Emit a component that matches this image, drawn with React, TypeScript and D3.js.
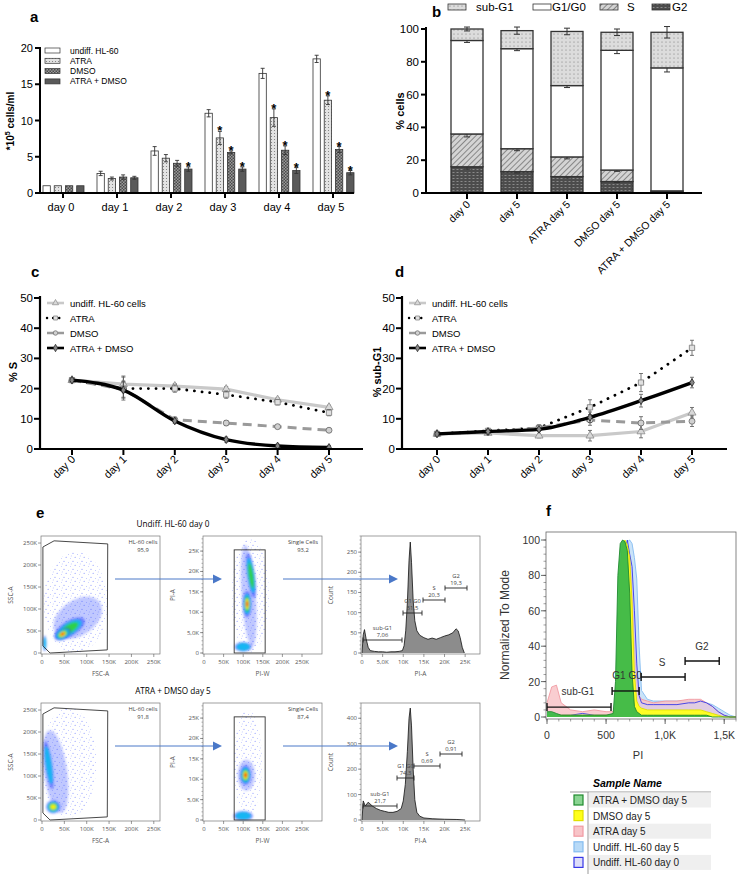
import React from 'react';
import * as d3 from 'd3';

const FONT = '"Liberation Sans", Arial, Helvetica, sans-serif';
const FLOW_FONT = '"Open Sans", "Liberation Sans", sans-serif';

// ---------- a: cell counts (*10^5 cells/ml)
const days = ['day 0', 'day 1', 'day 2', 'day 3', 'day 4', 'day 5'];
const countSeries = ['undiff. HL-60', 'ATRA', 'DMSO', 'ATRA + DMSO'];
const countUndiff = [1, 2.7, 5.8, 11.0, 16.5, 18.5];
const countAtra = [1, 2.0, 4.8, 7.6, 10.4, 12.8];
const countDmso = [1, 2.2, 4.1, 5.6, 5.9, 6.0];
const countBoth = [1, 2.1, 3.3, 3.3, 3.1, 2.8];
const countErrUndiff = [0, 0.3, 0.6, 0.5, 0.7, 0.5];
const countErrAtra = [0, 0.2, 0.5, 0.9, 1.2, 0.6];
const countErrDmso = [0, 0.3, 0.4, 0.2, 0.6, 0.4];
const countErrBoth = [0, 0.2, 0.3, 0.3, 0.4, 0.3];
const starAtra = [0, 0, 0, 1, 1, 1];
const starDmso = [0, 0, 0, 1, 1, 1];
const starBoth = [0, 0, 1, 1, 1, 1];

// ---------- b: cell cycle phases (% cells)
const stackCats = ['day 0', 'day 5', 'ATRA day 5', 'DMSO day 5', 'ATRA + DMSO day 5'];
const phaseNames = ['sub-G1', 'G1/G0', 'S', 'G2'];
const pctG2 = [16, 13, 10, 7, 1];
const pctS = [20, 14, 12, 7, 0.3];
const pctG1 = [57, 61, 43.5, 73, 75];
const pctSubG1 = [7, 11, 33, 11, 21.7];
const errG2 = [1.5, 0.8, 0.8, 0.6, 0.4];
const errS = [1.8, 1.2, 1.2, 0.8, 0.4];
const errG1 = [1.2, 1.2, 1.2, 2.0, 2.5];
const errSubG1 = [1.2, 2.2, 2.0, 2.0, 3.5];

// ---------- c: % S,  d: % sub-G1
const lineSeries = ['undiff. HL-60 cells', 'ATRA', 'DMSO', 'ATRA + DMSO'];
const sUndiff = [22.8, 21.5, 20.8, 19.8, 16.3, 13.8];
const sAtra = [22.8, 20.0, 20.0, 18.0, 15.5, 12.0];
const sDmso = [22.8, 19.8, 9.7, 8.6, 7.4, 6.2];
const sBoth = [22.8, 19.5, 9.3, 3.1, 1.0, 0.5];
const sErr = [0.4, 3.8, 1.2, 1.2, 0.9, 1.0];
const subUndiff = [5.0, 5.3, 4.4, 4.4, 5.8, 12.0];
const subAtra = [5.0, 6.0, 7.0, 13.8, 22.0, 33.5];
const subDmso = [5.0, 5.6, 7.0, 9.6, 8.6, 9.2];
const subBoth = [5.0, 5.8, 6.5, 10.5, 16.0, 22.0];
const subErr = [0.5, 0.8, 1.0, 2.5, 3.0, 2.5];

// ---------- e: flow cytometry
const histTopPi = [0, 300, 600, 1000, 1500, 2000, 3000, 4000, 5000, 6000, 7000, 8000, 9000, 9800, 10200, 10600, 11000, 11400, 11700, 12000, 12400, 12800, 13300, 14000, 15000, 16000, 17000, 18000, 19000, 20000, 21000, 22000, 22800, 23300, 23800, 24300, 24800];
const histTopCount = [0, 45, 58, 35, 14, 6, 4, 3, 3, 2, 3, 3, 4, 6, 18, 55, 125, 230, 275, 225, 130, 80, 55, 44, 38, 34, 37, 34, 38, 42, 45, 50, 60, 55, 38, 14, 0];
const histBotPi = [0, 300, 800, 1500, 2500, 3500, 4500, 5500, 6500, 7500, 8500, 9500, 10000, 10500, 11000, 11400, 11700, 12000, 12400, 12800, 13300, 14000, 15000, 17000, 20000, 23000, 25000];
const histBotCount = [0, 75, 55, 70, 55, 45, 38, 34, 30, 30, 34, 45, 75, 140, 270, 400, 440, 370, 200, 80, 30, 15, 8, 5, 3, 2, 0];
const gateTopLabels = ['95,9', '93,2', '7,06', '51,5', '20,3', '19,3'];
const gateBotLabels = ['91,8', '87,4', '21,7', '74,3', '0,69', '0,91'];
const fscGate: [number, number][] = [[2e3, 16e3], [2e3, 241e3], [27e3, 255e3], [147e3, 248e3], [146e3, 7e3], [18e3, 0]];
const topFscBlobs = [
  { x: 80e3, y: 80e3, rx: 60e3, ry: 40e3, rot: -35, levels: 1 },
  { x: 62e3, y: 56e3, rx: 38e3, ry: 17e3, rot: -32, levels: 3 },
  { x: 46e3, y: 43e3, rx: 20e3, ry: 12e3, rot: -30, levels: 5 },
  { x: 6e3, y: 22e3, rx: 4e3, ry: 18e3, rot: 0, levels: 2 },
];
const topFscSpeck = { x: 75e3, y: 115e3, rx: 72e3, ry: 115e3 };
const topPiBlobs = [
  { x: 114e3, y: 14e3, rx: 18e3, ry: 12.5e3, rot: -4, levels: 1 },
  { x: 120e3, y: 19e3, rx: 10e3, ry: 5.5e3, rot: -8, levels: 3 },
  { x: 110e3, y: 12e3, rx: 11e3, ry: 3.2e3, rot: 0, levels: 5 },
  { x: 100e3, y: 1.5e3, rx: 22e3, ry: 1.2e3, rot: 0, levels: 2 },
];
const topPiSpeck = { x: 118e3, y: 14e3, rx: 48e3, ry: 14e3 };
const botFscBlobs = [
  { x: 30e3, y: 110e3, rx: 26e3, ry: 95e3, rot: -8, levels: 1 },
  { x: 15e3, y: 125e3, rx: 8e3, ry: 55e3, rot: -8, levels: 2 },
  { x: 25e3, y: 30e3, rx: 16e3, ry: 15e3, rot: 0, levels: 4 },
];
const botFscSpeck = { x: 60e3, y: 130e3, rx: 62e3, ry: 125e3 };
const botPiBlobs = [
  { x: 108e3, y: 11e3, rx: 22e3, ry: 3.8e3, rot: 0, levels: 1 },
  { x: 106e3, y: 11e3, rx: 14e3, ry: 2.4e3, rot: 0, levels: 5 },
  { x: 100e3, y: 1e3, rx: 25e3, ry: 1.2e3, rot: 0, levels: 2 },
];
const botPiSpeck = { x: 112e3, y: 14e3, rx: 36e3, ry: 13e3 };

// ---------- f: overlay histograms (normalized to mode)
const overlayPi = [0, 40, 80, 120, 200, 300, 400, 500, 560, 580, 600, 620, 640, 660, 680, 700, 720, 740, 760, 780, 800, 850, 900, 1000, 1100, 1200, 1250, 1300, 1350, 1400, 1450, 1500, 1550, 1600];
const sampleNames = ['ATRA + DMSO day 5', 'DMSO day 5', 'ATRA day 5', 'Undiff. HL-60 day 5', 'Undiff. HL-60 day 0'];
const ovBoth = [3, 3, 2, 1, 1, 1, 1, 1, 2, 20, 80, 98, 100, 99, 94, 70, 25, 6, 3, 2, 1, 1, 1, 1, 1, 1, 1, 1, 1, 0, 0, 0, 0, 0];
const ovDmso = [1, 1, 1, 1, 1, 1, 1, 1, 1, 5, 40, 85, 98, 100, 97, 90, 65, 25, 9, 6, 5, 4, 4, 4, 4, 4, 4, 4, 3, 2, 1, 0, 0, 0];
const ovAtra = [8, 17, 18, 8, 4, 3, 4, 3, 3, 6, 30, 70, 90, 95, 96, 90, 70, 40, 20, 12, 10, 9, 8, 9, 9, 10, 10, 10, 8, 6, 3, 1, 0, 0];
const ovUndiff5 = [1, 1, 1, 1, 1, 1, 1, 1, 1, 2, 10, 40, 75, 95, 99, 100, 98, 90, 78, 40, 15, 10, 9, 9, 9, 9, 9, 9, 8, 7, 5, 3, 1, 0];
const ovUndiff0 = [1, 1, 1, 1, 1, 2, 1, 1, 1, 2, 8, 30, 70, 95, 100, 92, 85, 60, 30, 12, 8, 7, 7, 7, 7, 8, 8, 9, 8, 6, 3, 1, 0, 0];
const ovGateNames = ['sub-G1', 'G1 G0', 'S', 'G2'];
const ovGateFrom = [0, 551, 797, 1169];
const ovGateTo = [542, 780, 1169, 1458];
const ovGateLevel = [5.6, 14.7, 22.6, 31.6];

const densityColors = ['#2f46ff', '#12b6f2', '#2fd04a', '#f0ee10', '#ff2a10'];
const densityScale = [1, 0.78, 0.58, 0.4, 0.24];

function Defs() {
  return (
    <defs>
      <pattern id="dotFill" width="3" height="3" patternUnits="userSpaceOnUse">
        <rect width="3" height="3" fill="#e2e2e2" />
        <circle cx="1.5" cy="1.5" r="0.55" fill="#777" />
      </pattern>
      <pattern id="checkFill" width="3" height="3" patternUnits="userSpaceOnUse">
        <rect width="3" height="3" fill="#9a9a9a" />
        <rect width="1.5" height="1.5" fill="#4a4a4a" />
        <rect x="1.5" y="1.5" width="1.5" height="1.5" fill="#4a4a4a" />
      </pattern>
      <pattern id="subFill" width="4" height="4" patternUnits="userSpaceOnUse">
        <rect width="4" height="4" fill="#dcdcdc" />
        <circle cx="2" cy="2" r="0.5" fill="#666" />
      </pattern>
      <pattern id="hatchFill" width="4" height="4" patternUnits="userSpaceOnUse" patternTransform="rotate(45)">
        <rect width="4" height="4" fill="#d4d4d4" />
        <line x1="0" y1="0" x2="0" y2="4" stroke="#666" strokeWidth="1.4" />
      </pattern>
      <pattern id="g2Fill" width="4" height="3" patternUnits="userSpaceOnUse">
        <rect width="4" height="3" fill="#4c4c4c" />
        <rect x="0.5" y="1" width="2" height="0.8" fill="#9a9a9a" />
      </pattern>
      <pattern id="speck" width="9" height="8" patternUnits="userSpaceOnUse">
        <circle cx="1" cy="1.2" r="0.5" fill="#3c50ff" />
        <circle cx="5.6" cy="2.4" r="0.45" fill="#5a6cff" />
        <circle cx="3.1" cy="5.3" r="0.5" fill="#3c50ff" />
        <circle cx="7.4" cy="6.6" r="0.45" fill="#6a7aff" />
        <circle cx="8.2" cy="3.9" r="0.4" fill="#3c50ff" />
      </pattern>
      <filter id="soft" x="-50%" y="-50%" width="200%" height="200%">
        <feGaussianBlur stdDeviation="0.9" />
      </filter>
      <clipPath id="clipF"><rect x={546} y={532} width={190} height={187} /></clipPath>
    </defs>
  );
}

function ErrorBar({ x, y0, y1, w = 5, color = '#333', sw = 0.9 }: any) {
  return (
    <g stroke={color} strokeWidth={sw}>
      <line x1={x} x2={x} y1={y0} y2={y1} />
      <line x1={x - w / 2} x2={x + w / 2} y1={y0} y2={y0} />
      <line x1={x - w / 2} x2={x + w / 2} y1={y1} y2={y1} />
    </g>
  );
}

function PanelA() {
  const x = d3.scalePoint<string>().domain(days).range([63, 333]);
  const inner = d3.scaleBand<string>().domain(countSeries).range([-20, 21]).paddingInner(0.35);
  const y = d3.scaleLinear().domain([0, 20]).range([193, 48]);
  const vals = [countUndiff, countAtra, countDmso, countBoth];
  const errs = [countErrUndiff, countErrAtra, countErrDmso, countErrBoth];
  const stars = [null, starAtra, starDmso, starBoth];
  const fills = ['#fff', 'url(#dotFill)', 'url(#checkFill)', '#5a5a5a'];
  const bw = inner.bandwidth();
  return (
    <g fontFamily={FONT}>
      <text x={30} y={22} fontSize={15} fontWeight="bold">a</text>
      {countSeries.map((s, si) => days.map((d, di) => {
        const bx = x(d)! + inner(s)!;
        const v = vals[si][di];
        const e = errs[si][di];
        const cx = bx + bw / 2;
        return (
          <g key={s + d}>
            <rect x={bx} y={y(v)} width={bw} height={y(0) - y(v)} fill={fills[si]} stroke="#333" strokeWidth={0.8} />
            {e > 0 && <ErrorBar x={cx} y0={y(v + e)} y1={y(v - e)} w={4} />}
            {stars[si] && stars[si]![di] ? (
              <text x={cx} y={y(v + e) + 4} textAnchor="middle" fontSize={13} fontWeight="bold">*</text>
            ) : null}
          </g>
        );
      }))}
      <line x1={40} x2={40} y1={47} y2={194} stroke="#000" strokeWidth={2} />
      <line x1={39} x2={354} y1={193} y2={193} stroke="#000" strokeWidth={2} />
      {y.ticks(4).map(t => (
        <g key={t}>
          <line x1={35} x2={40} y1={y(t)} y2={y(t)} stroke="#000" strokeWidth={2} />
          <text x={33} y={y(t) + 4} textAnchor="end" fontSize={11}>{t}</text>
        </g>
      ))}
      {days.map(d => (
        <g key={d}>
          <line x1={x(d)} x2={x(d)} y1={193} y2={198} stroke="#000" strokeWidth={2} />
          <text x={x(d)! - 2} y={211} textAnchor="middle" fontSize={11}>{d}</text>
        </g>
      ))}
      <text transform="translate(14,121) rotate(-90)" textAnchor="middle" fontSize={10} fontWeight="bold">
        *10<tspan fontSize={7} dy={-4}>5</tspan><tspan dy={4}> cells/ml</tspan>
      </text>
      {countSeries.map((s, i) => (
        <g key={s}>
          <rect x={45} y={48 + i * 10.3} width={15} height={5} fill={fills[i]} stroke="#333" strokeWidth={0.7} />
          <text x={70} y={53.5 + i * 10.3} fontSize={8.5}>{s}</text>
        </g>
      ))}
    </g>
  );
}

function PanelB() {
  const x = d3.scalePoint<string>().domain(stackCats).range([467, 667]);
  const y = d3.scaleLinear().domain([0, 100]).range([193, 29]);
  const table = stackCats.map((c, i) => ({ cat: c, G2: pctG2[i], S: pctS[i], 'G1/G0': pctG1[i], 'sub-G1': pctSubG1[i] }));
  const keys = ['G2', 'S', 'G1/G0', 'sub-G1'];
  const errMap: Record<string, number[]> = { G2: errG2, S: errS, 'G1/G0': errG1, 'sub-G1': errSubG1 };
  const fillMap: Record<string, string> = { G2: 'url(#g2Fill)', S: 'url(#hatchFill)', 'G1/G0': '#fff', 'sub-G1': 'url(#subFill)' };
  const stacked = d3.stack<any>().keys(keys)(table);
  const bw = 32;
  const legendX = [448, 533, 600, 652];
  const legendTextX = [476, 552, 627, 672];
  return (
    <g fontFamily={FONT}>
      <text x={432} y={17} fontSize={15} fontWeight="bold">b</text>
      {phaseNames.map((p, i) => (
        <g key={p}>
          <rect x={legendX[i]} y={4} width={18} height={6} fill={fillMap[p]} stroke="#333" strokeWidth={0.8} />
          <text x={legendTextX[i]} y={11} fontSize={11.5}>{p}</text>
        </g>
      ))}
      {stacked.map(layer => layer.map((seg, i) => {
        const cx = x(stackCats[i])!;
        const top = seg[1];
        const e = errMap[layer.key][i];
        return (
          <g key={layer.key + i}>
            <rect x={cx - bw / 2} y={y(seg[1])} width={bw} height={Math.max(0, y(seg[0]) - y(seg[1]))} fill={fillMap[layer.key]} stroke="#333" strokeWidth={1.3} />
            <ErrorBar x={cx} y0={y(top + e)} y1={y(top - e)} w={6} sw={1} />
          </g>
        );
      }))}
      <line x1={426} x2={426} y1={27} y2={194} stroke="#000" strokeWidth={2} />
      <line x1={425} x2={702} y1={193} y2={193} stroke="#000" strokeWidth={2} />
      {y.ticks(5).map(t => (
        <g key={t}>
          <line x1={421} x2={426} y1={y(t)} y2={y(t)} stroke="#000" strokeWidth={2} />
          <text x={419} y={y(t) + 4} textAnchor="end" fontSize={11.5}>{t}</text>
        </g>
      ))}
      {stackCats.map(c => (
        <g key={c}>
          <line x1={x(c)} x2={x(c)} y1={193} y2={199} stroke="#000" strokeWidth={2} />
          <text transform={`translate(${x(c)! + 4},205) rotate(-45)`} textAnchor="end" fontSize={10.5}>{c}</text>
        </g>
      ))}
      <text transform="translate(404,111) rotate(-90)" textAnchor="middle" fontSize={11} fontWeight="bold">% cells</text>
    </g>
  );
}

const lineStyles = [
  { stroke: '#c9c9c9', width: 3.2, dash: undefined as string | undefined, cap: 'butt', sym: d3.symbolTriangle, mFill: '#d8d8d8', mStroke: '#8a8a8a' },
  { stroke: '#000', width: 2.8, dash: '0.1,7.6', cap: 'round', sym: d3.symbolSquare, mFill: '#e0e0e0', mStroke: '#777' },
  { stroke: '#9a9a9a', width: 3, dash: '9,6', cap: 'butt', sym: d3.symbolCircle, mFill: '#d0d0d0', mStroke: '#666' },
  { stroke: '#000', width: 3.4, dash: undefined, cap: 'butt', sym: d3.symbolDiamond, mFill: '#888', mStroke: '#222' },
];

function LinePanel({ letter, letterX, axisX, xRange, xEnd, yLabel, yLabelX, data, err }: any) {
  const x = d3.scalePoint<string>().domain(days).range(xRange);
  const y = d3.scaleLinear().domain([0, 50]).range([449, 298]);
  const sym = (s: any, size: number) => d3.symbol().type(s).size(size)()!;
  return (
    <g fontFamily={FONT}>
      <text x={letterX} y={277} fontSize={15} fontWeight="bold">{letter}</text>
      {data.map((vals: number[], si: number) => {
        const st = lineStyles[si];
        const line = d3.line<number>().x((_, i) => x(days[i])!).y(d => y(d)).curve(si === 3 ? d3.curveMonotoneX : d3.curveLinear);
        return (
          <g key={si}>
            <path d={line(vals)!} fill="none" stroke={st.stroke} strokeWidth={st.width} strokeDasharray={st.dash} strokeLinecap={st.cap as any} />
            {vals.map((v, i) => (
              <g key={i}>
                {i > 0 && <ErrorBar x={x(days[i])} y0={y(v + err[i] * (si === 1 ? 1 : 0.7))} y1={y(Math.max(0, v - err[i] * (si === 1 ? 1 : 0.7)))} w={4} color="#555" sw={0.8} />}
                <path transform={`translate(${x(days[i])},${y(v)})`} d={sym(st.sym, si === 3 ? 18 : 28)} fill={st.mFill} stroke={st.mStroke} strokeWidth={0.8} />
              </g>
            ))}
          </g>
        );
      })}
      <line x1={axisX} x2={axisX} y1={296} y2={450} stroke="#000" strokeWidth={2.2} />
      <line x1={axisX - 1} x2={xEnd} y1={449} y2={449} stroke="#000" strokeWidth={2.2} />
      {y.ticks(5).map(t => (
        <g key={t}>
          <line x1={axisX - 6} x2={axisX} y1={y(t)} y2={y(t)} stroke="#000" strokeWidth={2} />
          <text x={axisX - 7} y={y(t) + 4} textAnchor="end" fontSize={11.5}>{t}</text>
        </g>
      ))}
      {days.map(d => (
        <g key={d}>
          <line x1={x(d)} x2={x(d)} y1={449} y2={455} stroke="#000" strokeWidth={2} />
          <text transform={`translate(${x(d)! + 4},460) rotate(-45)`} textAnchor="end" fontSize={11}>{d}</text>
        </g>
      ))}
      <text transform={`translate(${yLabelX},372) rotate(-90)`} textAnchor="middle" fontSize={11} fontWeight="bold">{yLabel}</text>
      {lineSeries.map((s, i) => {
        const st = lineStyles[i];
        const ly = 303 + i * 15;
        const lx = axisX + 7;
        return (
          <g key={s}>
            <line x1={lx} x2={lx + 17} y1={ly} y2={ly} stroke={st.stroke} strokeWidth={i === 1 ? 2.4 : 2.6} strokeDasharray={i === 1 ? '0.1,6' : i === 2 ? '7,4' : undefined} strokeLinecap={st.cap as any} />
            <path transform={`translate(${lx + 8.5},${ly})`} d={sym(st.sym, 16)} fill={st.mFill} stroke={st.mStroke} strokeWidth={0.7} />
            <text x={lx + 23} y={ly + 3.5} fontSize={9.5}>{s}</text>
          </g>
        );
      })}
    </g>
  );
}

function Density({ xs, ys, blobs, speck }: any) {
  const sx = (v: number) => Math.abs(xs(v) - xs(0));
  const sy = (v: number) => Math.abs(ys(v) - ys(0));
  return (
    <g>
      <ellipse cx={xs(speck.x)} cy={ys(speck.y)} rx={sx(speck.rx)} ry={sy(speck.ry)} fill="url(#speck)" opacity={0.8} />
      {blobs.map((b: any, bi: number) => (
        <g key={bi} transform={`translate(${xs(b.x)},${ys(b.y)}) rotate(${b.rot})`} filter="url(#soft)">
          {densityColors.slice(0, b.levels).map((c, li) => (
            <ellipse key={li} rx={sx(b.rx) * densityScale[li]} ry={sy(b.ry) * densityScale[li]} fill={c}
              opacity={b.levels === 1 ? 0.3 : li === 0 ? 0.6 : 1} />
          ))}
        </g>
      ))}
    </g>
  );
}

function FlowFrame({ x0, x1, y0, y1, xs, ys, xt, yt, fmt, xLabel, yLabel, minor }: any) {
  const tc = '#555';
  return (
    <g fontFamily={FLOW_FONT} fill={tc}>
      <rect x={x0} y={y0} width={x1 - x0} height={y1 - y0} fill="none" stroke="#777" strokeWidth={0.7} />
      {xt.map((t: number) => (
        <g key={t}>
          <line x1={xs(t)} x2={xs(t)} y1={y1} y2={y1 + 3} stroke={tc} strokeWidth={0.6} />
          <text x={xs(t)} y={y1 + 10} textAnchor="middle" fontSize={6}>{fmt(t)}</text>
        </g>
      ))}
      {yt.map((t: number) => (
        <g key={t}>
          <line x1={x0 - 3} x2={x0} y1={ys(t)} y2={ys(t)} stroke={tc} strokeWidth={0.6} />
          <text x={x0 - 4} y={ys(t) + 2} textAnchor="end" fontSize={6}>{fmt(t)}</text>
        </g>
      ))}
      {minor && d3.range(0, minor.count).map((i: number) => (
        <line key={i} x1={x0 - 1.6} x2={x0} y1={ys(i * minor.step)} y2={ys(i * minor.step)} stroke={tc} strokeWidth={0.4} />
      ))}
      <text x={(x0 + x1) / 2} y={y1 + 22} textAnchor="middle" fontSize={6.5}>{xLabel}</text>
      <text transform={`translate(${x0 - 28},${(y0 + y1) / 2}) rotate(-90)`} textAnchor="middle" fontSize={6.5}>{yLabel}</text>
    </g>
  );
}

const kFmt = (v: number) => (v === 0 ? '0' : v < 10000 ? (v / 1000).toFixed(1).replace('.', ',') + 'K' : v / 1000 + 'K');
const nFmt = (v: number) => String(v);

function FlowRow({ top, title, labels, fscBlobs, fscSpeck, piBlobs, piSpeck, histPi, histCount, countMax, countTicks, gates }: any) {
  const y0 = top;
  const y1 = top + 118;
  const b = y1 - 1;
  const x1s = d3.scaleLinear().domain([0, 265000]).range([42, 160.5]);
  const y1s = d3.scaleLinear().domain([0, 266000]).range([b, y0]);
  const x2s = d3.scaleLinear().domain([0, 300000]).range([204, 321.6]);
  const y2s = d3.scaleLinear().domain([0, 28700]).range([b, y0]);
  const x3s = d3.scaleLinear().domain([0, 28600]).range([362, 480]);
  const y3s = d3.scaleLinear().domain([0, countMax]).range([b, y0]);
  const area = d3.area<number>().x((_, i) => x3s(histPi[i])).y0(b).y1(d => y3s(d));
  const line = d3.line<number>().x((_, i) => x3s(histPi[i])).y(d => y3s(d));
  const scatterTicks = [0, 50000, 100000, 150000, 200000, 250000];
  const piTicks = [0, 5000, 10000, 15000, 20000, 25000];
  const gp = fscGate.map(p => `${x1s(p[0])},${y1s(p[1])}`).join(' ');
  const gl = { fontSize: 5.8, fill: '#444', fontFamily: FLOW_FONT, textAnchor: 'middle' as const };
  const arrowY = top + 43;
  return (
    <g>
      <text x={173} y={top - 9} textAnchor="middle" fontSize={8.2} fontFamily={FLOW_FONT}>{title}</text>
      <clipPath id={`c1${top}`}><rect x={41} y={y0} width={119} height={118} /></clipPath>
      <clipPath id={`c2${top}`}><rect x={203} y={y0} width={119} height={118} /></clipPath>
      <g clipPath={`url(#c1${top})`}><Density xs={x1s} ys={y1s} blobs={fscBlobs} speck={fscSpeck} /></g>
      <g clipPath={`url(#c2${top})`}><Density xs={x2s} ys={y2s} blobs={piBlobs} speck={piSpeck} /></g>
      <polygon points={gp} fill="none" stroke="#333" strokeWidth={0.9} />
      <rect x={x2s(77000)} y={y2s(25300)} width={x2s(156000) - x2s(77000)} height={b - y2s(25300)} fill="none" stroke="#333" strokeWidth={0.9} />
      <text x={143} y={y0 + 8} {...gl}>HL-60 cells</text>
      <text x={143} y={y0 + 16} {...gl}>{labels[0]}</text>
      <text x={303} y={y0 + 8} {...gl}>Single Cells</text>
      <text x={303} y={y0 + 16} {...gl}>{labels[1]}</text>
      <FlowFrame x0={41} x1={160} y0={y0} y1={y1} xs={x1s} ys={y1s} xt={scatterTicks} yt={scatterTicks} fmt={kFmt} xLabel="FSC-A" yLabel="SSC-A" />
      <FlowFrame x0={203} x1={322} y0={y0} y1={y1} xs={x2s} ys={y2s} xt={scatterTicks} yt={piTicks} fmt={kFmt} xLabel="PI-W" yLabel="PI-A" minor={{ step: 1000, count: 29 }} />
      <path d={area(histCount)!} fill="#8c8c8c" />
      <path d={line(histCount)!} fill="none" stroke="#111" strokeWidth={0.8} />
      <FlowFrame x0={361} x1={480} y0={y0} y1={y1} xs={x3s} ys={y3s} xt={piTicks} yt={countTicks} fmt={(v: number) => (v >= 1000 ? kFmt(v) : nFmt(v))} xLabel="PI-A" yLabel="Count" minor={{ step: countTicks[1] / 5, count: Math.floor(countMax / (countTicks[1] / 5)) + 1 }} />
      {gates.map((g: any, i: number) => (
        <g key={i}>
          <g stroke="#222" strokeWidth={0.9}>
            <line x1={g.x0} x2={g.x1} y1={g.y} y2={g.y} />
            <line x1={g.x0} x2={g.x0} y1={g.y - 2.5} y2={g.y + 2.5} />
            <line x1={g.x1} x2={g.x1} y1={g.y - 2.5} y2={g.y + 2.5} />
          </g>
          <text x={(g.x0 + g.x1) / 2} y={g.y - 10} {...gl}>{g.name}</text>
          <text x={(g.x0 + g.x1) / 2} y={g.y - 3} {...gl}>{labels[2 + i]}</text>
        </g>
      ))}
      <g stroke="#4a78c8" strokeWidth={1}>
        <line x1={115} x2={214} y1={arrowY} y2={arrowY} />
        <line x1={283} x2={390} y1={arrowY} y2={arrowY} />
      </g>
      <polygon points={`213,${arrowY - 4.5} 222,${arrowY} 213,${arrowY + 4.5}`} fill="#4a78c8" />
      <polygon points={`389,${arrowY - 4.5} 398,${arrowY} 389,${arrowY + 4.5}`} fill="#4a78c8" />
    </g>
  );
}

function PanelE() {
  const topGates = [
    { name: 'sub-G1', x0: 363, x1: 402, y: 640 },
    { name: 'G1 G0', x0: 403, x1: 422, y: 613 },
    { name: 'S', x0: 423, x1: 445, y: 600 },
    { name: 'G2', x0: 445, x1: 467, y: 588 },
  ];
  const botGates = [
    { name: 'sub-G1', x0: 363, x1: 397, y: 806 },
    { name: 'G1 G0', x0: 397, x1: 414, y: 778 },
    { name: 'S', x0: 414, x1: 440, y: 766 },
    { name: 'G2', x0: 440, x1: 462, y: 754 },
  ];
  return (
    <g>
      <text x={36} y={518} fontSize={15} fontWeight="bold" fontFamily={FONT}>e</text>
      <FlowRow top={536} title="Undiff. HL-60 day 0" labels={gateTopLabels} fscBlobs={topFscBlobs} fscSpeck={topFscSpeck} piBlobs={topPiBlobs} piSpeck={topPiSpeck}
        histPi={histTopPi} histCount={histTopCount} countMax={290} countTicks={[0, 50, 100, 150, 200, 250]} gates={topGates} />
      <FlowRow top={703} title="ATRA + DMSO day 5" labels={gateBotLabels} fscBlobs={botFscBlobs} fscSpeck={botFscSpeck} piBlobs={botPiBlobs} piSpeck={botPiSpeck}
        histPi={histBotPi} histCount={histBotCount} countMax={460} countTicks={[0, 100, 200, 300, 400]} gates={botGates} />
    </g>
  );
}

const overlayStyles = [
  { fill: '#3cb84a', stroke: '#1f8a2e', op: 0.95 },
  { fill: '#ffff1a', stroke: '#e0e000', op: 0.95 },
  { fill: '#f8c4c8', stroke: '#f19aa2', op: 0.85 },
  { fill: '#b8daf7', stroke: '#84bcf0', op: 0.75 },
  { fill: '#cfcff6', stroke: '#3838e6', op: 0.5 },
];

function PanelF() {
  const x = d3.scaleLinear().domain([0, 1600]).range([547, 736]);
  const y = d3.scaleLinear().domain([0, 100]).range([717, 540]);
  const series = [ovBoth, ovDmso, ovAtra, ovUndiff5, ovUndiff0];
  const area = d3.area<number>().x((_, i) => x(overlayPi[i])).y0(y(0)).y1(d => y(d));
  const line = d3.line<number>().x((_, i) => x(overlayPi[i])).y(d => y(d));
  const drawOrder = [3, 2, 4, 1, 0];
  return (
    <g fontFamily={FONT}>
      <text x={546} y={516} fontSize={15} fontWeight="bold">f</text>
      <g clipPath="url(#clipF)">
        {drawOrder.map(si => (
          <g key={si}>
            <path d={area(series[si])!} fill={overlayStyles[si].fill} opacity={overlayStyles[si].op} />
            <path d={line(series[si])!} fill="none" stroke={overlayStyles[si].stroke} strokeWidth={0.9} />
          </g>
        ))}
      </g>
      <rect x={546} y={532} width={190} height={187} fill="none" stroke="#666" strokeWidth={0.8} />
      {y.ticks(5).map(t => (
        <g key={t}>
          <line x1={541} x2={546} y1={y(t)} y2={y(t)} stroke="#444" strokeWidth={0.8} />
          <text x={540} y={y(t) + 4} textAnchor="end" fontSize={10.5} fill="#333">{t}</text>
        </g>
      ))}
      {d3.range(0, 101, 4).map(t => (
        <line key={t} x1={543.5} x2={546} y1={y(t)} y2={y(t)} stroke="#444" strokeWidth={0.5} />
      ))}
      {[0, 500, 1000, 1500].map(t => (
        <g key={t}>
          <line x1={x(t)} x2={x(t)} y1={719} y2={724} stroke="#444" strokeWidth={0.8} />
          <text x={x(t)} y={739} textAnchor="middle" fontSize={10.5} fill="#333">{t >= 1000 ? kFmt(t) : t}</text>
        </g>
      ))}
      {d3.range(0, 1601, 100).map(t => (
        <line key={t} x1={x(t)} x2={x(t)} y1={719} y2={721.5} stroke="#444" strokeWidth={0.5} />
      ))}
      <text x={638} y={759} textAnchor="middle" fontSize={11} fill="#333">PI</text>
      <text transform="translate(509,625) rotate(-90)" textAnchor="middle" fontSize={12} fill="#333">Normalized To Mode</text>
      {ovGateNames.map((g, i) => (
        <g key={g}>
          <g stroke="#111" strokeWidth={1.4}>
            <line x1={x(ovGateFrom[i])} x2={x(ovGateTo[i])} y1={y(ovGateLevel[i])} y2={y(ovGateLevel[i])} />
            <line x1={x(ovGateFrom[i])} x2={x(ovGateFrom[i])} y1={y(ovGateLevel[i]) - 4} y2={y(ovGateLevel[i]) + 4} />
            <line x1={x(ovGateTo[i])} x2={x(ovGateTo[i])} y1={y(ovGateLevel[i]) - 4} y2={y(ovGateLevel[i]) + 4} />
          </g>
          <text x={i === 0 ? 578 : i === 1 ? 627 : i === 2 ? 662 : 702} y={y(ovGateLevel[i]) - (i === 0 ? 12 : i === 1 ? 12 : 11)} textAnchor="middle" fontSize={10} fill="#333">{g}</text>
        </g>
      ))}
      <text x={593} y={787} fontSize={10.5} fontWeight="bold" fontStyle="italic">Sample Name</text>
      <line x1={570} x2={711} y1={792} y2={792} stroke="#999" strokeWidth={1} />
      <line x1={588} x2={588} y1={792} y2={874} stroke="#999" strokeWidth={1} />
      {sampleNames.map((s, i) => (
        <g key={s}>
          {i % 2 === 0 && <rect x={589} y={792.5 + i * 15.6} width={122} height={15} fill="#efefef" />}
          <rect x={574} y={795 + i * 15.6} width={9} height={10} fill={overlayStyles[i].fill} fillOpacity={i === 4 ? 0.7 : i === 0 ? 0.6 : 1} stroke={overlayStyles[i].stroke} strokeWidth={1.2} />
          <text x={593} y={804 + i * 15.6} fontSize={10} fill="#222">{s}</text>
        </g>
      ))}
    </g>
  );
}

export default function App() {
  return (
    <svg width={737} height={874} style={{ position: 'absolute', left: 0, top: 0, background: '#fff' }}>
      <Defs />
      <rect width={737} height={874} fill="#fff" />
      <PanelA />
      <PanelB />
      <LinePanel letter="c" letterX={31} axisX={40} xRange={[72, 329]} xEnd={363} yLabel="% S" yLabelX={17}
        data={[sUndiff, sAtra, sDmso, sBoth]} err={sErr} />
      <LinePanel letter="d" letterX={395} axisX={402} xRange={[437, 692]} xEnd={727} yLabel="% sub-G1" yLabelX={381}
        data={[subUndiff, subAtra, subDmso, subBoth]} err={subErr} />
      <PanelE />
      <PanelF />
    </svg>
  );
}
